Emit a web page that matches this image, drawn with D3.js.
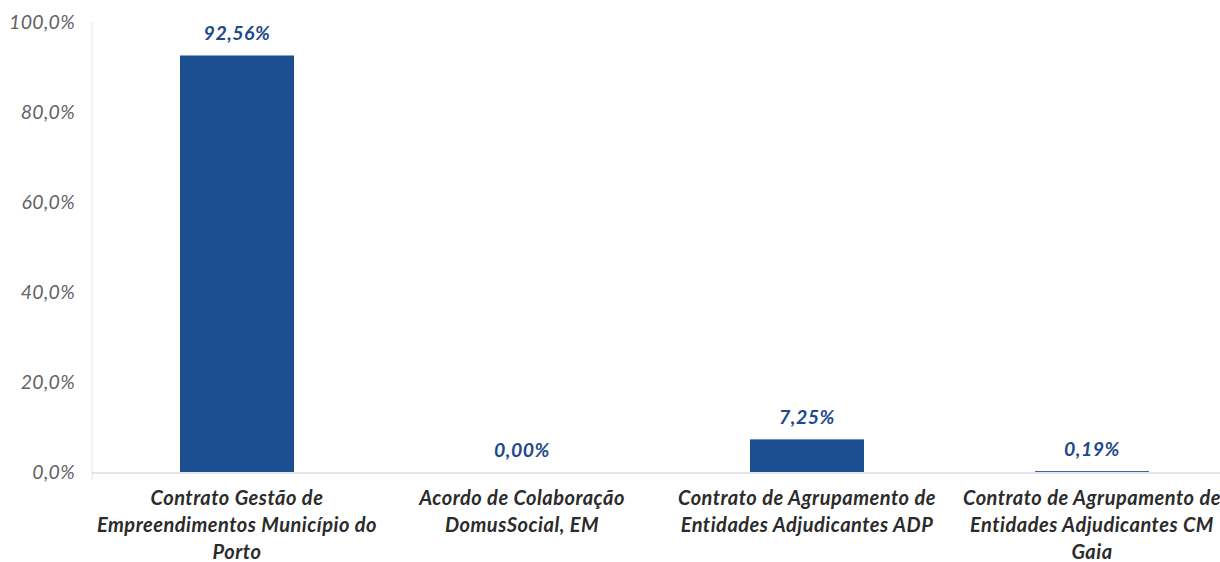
<!DOCTYPE html>
<html><head><meta charset="utf-8">
<script src="https://cdn.jsdelivr.net/npm/d3@7"></script>
<style>body{margin:0;background:#fff;} svg{display:block;}</style>
</head><body>
<svg id="c" width="1220" height="562"></svg>
<script>
const categories = ["c1","c2","c3","c4"];
const categoryLabels = [
  ["Contrato Gestão de","Empreendimentos Município do","Porto"],
  ["Acordo de Colaboração","DomusSocial, EM"],
  ["Contrato de Agrupamento de","Entidades Adjudicantes ADP"],
  ["Contrato de Agrupamento de","Entidades Adjudicantes CM","Gaia"]
];
const values = [92.56, 0.00, 7.25, 0.19];
const valueLabels = ["92,56%","0,00%","7,25%","0,19%"];
const yTicks = [0,20,40,60,80,100];
const yTickLabels = ["0,0%","20,0%","40,0%","60,0%","80,0%","100,0%"];

const svg = d3.select("#c");
const x = d3.scaleBand().domain(categories).range([94.5, 1234.5]).paddingInner(0.6).paddingOuter(0.3);
const y = d3.scaleLinear().domain([0,100]).range([472,22]);
const font = "Lato, 'Open Sans', sans-serif";

// y axis line
svg.append("line").attr("x1",92).attr("x2",92).attr("y1",y(100)).attr("y2",y(0)+8)
  .attr("stroke","#eeeeee").attr("stroke-width",1.5);
// baseline
svg.append("line").attr("x1",92).attr("x2",1220).attr("y1",y(0)+1).attr("y2",y(0)+1)
  .attr("stroke","#d9dee6").attr("stroke-width",1.5);

// y tick labels
svg.selectAll(".yt").data(yTicks).enter().append("text")
  .attr("x",75).attr("y",d=>y(d)+7)
  .attr("text-anchor","end").attr("font-family",font).attr("font-style","italic")
  .attr("font-size",19.5).attr("letter-spacing",0.3).attr("fill","#5f6368")
  .text((d,i)=>yTickLabels[i]);

// bars
svg.selectAll(".bar").data(values).enter().append("rect")
  .attr("x",(d,i)=>x(categories[i])).attr("width",x.bandwidth())
  .attr("y",d=>y(d)).attr("height",d=>y(0)-y(d))
  .attr("fill","#1c4f91");

// value labels
svg.selectAll(".vl").data(values).enter().append("text")
  .attr("x",(d,i)=>x(categories[i])+x.bandwidth()/2)
  .attr("y",d=>y(d)-15)
  .attr("text-anchor","middle").attr("font-family",font).attr("font-style","italic").attr("font-weight","bold")
  .attr("font-size",19.5).attr("letter-spacing",0.5).attr("fill","#1d4a8a")
  .text((d,i)=>valueLabels[i]);

// category labels
categoryLabels.forEach((lines,i)=>{
  const t = svg.append("text")
    .attr("text-anchor","middle").attr("font-family",font).attr("font-style","italic").attr("font-weight","bold")
    .attr("font-size",20).attr("letter-spacing",0.5).attr("fill","#2b2b2b");
  lines.forEach((l,j)=>{
    t.append("tspan").attr("x",x(categories[i])+x.bandwidth()/2).attr("y",505+j*27).text(l);
  });
});
</script>
</body></html>
